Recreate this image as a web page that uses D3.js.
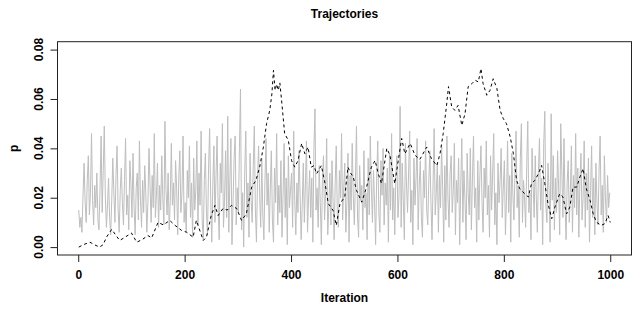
<!DOCTYPE html>
<html>
<head>
<meta charset="utf-8">
<script src="https://cdn.jsdelivr.net/npm/d3@7"></script>
<style>
  body { margin: 0; background: #fff; }
  text { font-family: "Liberation Sans", Arial, sans-serif; }
</style>
</head>
<body>
<svg id="chart" width="636" height="311"></svg>
<script>
// gray trace, sampled every 2 iterations from 1 to 999
const gray_values = [
  0.015, 0.008, 0.012, 0.006, 0.021, 0.034, 0.018, 0.010, 0.027, 0.037,
  0.013, 0.022, 0.046, 0.019, 0.009, 0.025, 0.016, 0.030, 0.011, 0.007,
  0.024, 0.045, 0.014, 0.031, 0.049, 0.020, 0.008, 0.017, 0.028, 0.012,
  0.005, 0.019, 0.036, 0.022, 0.010, 0.029, 0.041, 0.015, 0.006, 0.023,
  0.032, 0.018, 0.009, 0.027, 0.044, 0.013, 0.021, 0.007, 0.035, 0.026,
  0.012, 0.038, 0.016, 0.005, 0.024, 0.030, 0.011, 0.043, 0.019, 0.008,
  0.027, 0.014, 0.033, 0.022, 0.006, 0.018, 0.040, 0.025, 0.010, 0.029,
  0.016, 0.046, 0.012, 0.021, 0.034, 0.008, 0.025, 0.015, 0.037, 0.020,
  0.009, 0.051, 0.023, 0.013, 0.030, 0.007, 0.019, 0.042, 0.017, 0.026,
  0.011, 0.035, 0.024, 0.005, 0.028, 0.039, 0.014, 0.022, 0.045, 0.010,
  0.018, 0.006, 0.031, 0.020, 0.041, 0.012, 0.026, 0.004, 0.036, 0.015,
  0.023, 0.043, 0.009, 0.030, 0.017, 0.047, 0.011, 0.003, 0.027, 0.038,
  0.014, 0.005, 0.032, 0.048, 0.020, 0.002, 0.025, 0.041, 0.010, 0.029,
  0.045, 0.016, 0.003, 0.034, 0.022, 0.050, 0.008, 0.019, 0.039, 0.012,
  0.053, 0.006, 0.027, 0.044, 0.001, 0.018, 0.036, 0.045, 0.009, 0.024,
  0.014, 0.040, 0.064, 0.007, 0.022, 0.000, 0.031, 0.047, 0.012, 0.026,
  0.004, 0.038, 0.019, 0.010, 0.033, 0.049, 0.015, 0.002, 0.028, 0.041,
  0.021, 0.008, 0.036, 0.013, 0.003, 0.027, 0.044, 0.017, 0.030, 0.006,
  0.024, 0.039, 0.011, 0.002, 0.032, 0.018, 0.046, 0.009, 0.025, 0.014,
  0.035, 0.004, 0.021, 0.042, 0.012, 0.028, 0.001, 0.037, 0.016, 0.023,
  0.030, 0.008, 0.047, 0.019, 0.005, 0.026, 0.014, 0.039, 0.022, 0.003,
  0.017, 0.034, 0.010, 0.025, 0.043, 0.006, 0.020, 0.031, 0.012, 0.028,
  0.002, 0.040, 0.056, 0.015, 0.024, 0.008, 0.033, 0.018, 0.001, 0.027,
  0.037, 0.011, 0.022, 0.044, 0.005, 0.016, 0.030, 0.009, 0.035, 0.019,
  0.003, 0.026, 0.041, 0.013, 0.008, 0.031, 0.020, 0.046, 0.011, 0.024,
  0.034, 0.006, 0.018, 0.038, 0.002, 0.029, 0.015, 0.042, 0.021, 0.009,
  0.027, 0.049, 0.012, 0.004, 0.033, 0.019, 0.025, 0.007, 0.039, 0.016,
  0.022, 0.003, 0.036, 0.013, 0.045, 0.024, 0.010, 0.031, 0.018, 0.001,
  0.028, 0.043, 0.014, 0.006, 0.035, 0.021, 0.040, 0.009, 0.026, 0.017,
  0.032, 0.002, 0.038, 0.015, 0.046, 0.011, 0.024, 0.005, 0.029, 0.037,
  0.012, 0.021, 0.057, 0.008, 0.034, 0.019, 0.003, 0.042, 0.026, 0.014,
  0.030, 0.047, 0.010, 0.023, 0.001, 0.036, 0.017, 0.028, 0.044, 0.007,
  0.025, 0.035, 0.012, 0.004, 0.031, 0.020, 0.043, 0.015, 0.009, 0.027,
  0.039, 0.018, 0.003, 0.026, 0.048, 0.013, 0.022, 0.034, 0.006, 0.029,
  0.016, 0.041, 0.024, 0.002, 0.033, 0.011, 0.045, 0.020, 0.008, 0.030,
  0.037, 0.014, 0.023, 0.042, 0.005, 0.027, 0.018, 0.036, 0.001, 0.025,
  0.044, 0.010, 0.031, 0.019, 0.003, 0.038, 0.022, 0.013, 0.040, 0.007,
  0.028, 0.045, 0.016, 0.024, 0.002, 0.035, 0.011, 0.029, 0.041, 0.018,
  0.006, 0.032, 0.020, 0.043, 0.013, 0.025, 0.004, 0.037, 0.015, 0.030,
  0.046, 0.009, 0.022, 0.001, 0.034, 0.018, 0.027, 0.040, 0.012, 0.024,
  0.035, 0.005, 0.019, 0.043, 0.014, 0.029, 0.002, 0.038, 0.021, 0.011,
  0.031, 0.047, 0.016, 0.025, 0.004, 0.036, 0.050, 0.010, 0.027, 0.019,
  0.008, 0.033, 0.051, 0.014, 0.022, 0.003, 0.040, 0.026, 0.012, 0.037,
  0.020, 0.006, 0.031, 0.044, 0.015, 0.028, 0.001, 0.042, 0.055, 0.017,
  0.010, 0.034, 0.023, 0.002, 0.054, 0.019, 0.037, 0.007, 0.028, 0.014,
  0.039, 0.024, 0.005, 0.050, 0.031, 0.012, 0.044, 0.018, 0.003, 0.026,
  0.035, 0.010, 0.022, 0.041, 0.006, 0.029, 0.016, 0.046, 0.013, 0.032,
  0.004, 0.027, 0.038, 0.011, 0.020, 0.043, 0.008, 0.030, 0.015, 0.036,
  0.002, 0.023, 0.041, 0.012, 0.028, 0.005, 0.034, 0.018, 0.009, 0.031,
  0.045, 0.013, 0.025, 0.006, 0.037, 0.020, 0.010, 0.029, 0.016, 0.022
];
const gray_step = 2;

// dashed trace: [iteration, p]
const dashed_points = [
  [1, 0.000], [10, 0.001], [22, 0.002], [30, 0.001], [40, 0.000], [47, 0.001],
  [53, 0.004], [63, 0.0072], [70, 0.005], [78, 0.0027], [88, 0.004], [100, 0.0057],
  [110, 0.002], [120, 0.003], [131, 0.0047], [138, 0.0037], [150, 0.010], [160, 0.009],
  [172, 0.0108], [182, 0.0088], [194, 0.0068], [204, 0.006], [216, 0.004], [222, 0.0108],
  [235, 0.0027], [241, 0.004], [250, 0.0128], [257, 0.0169], [263, 0.0128], [272, 0.0156],
  [280, 0.015], [288, 0.0169], [298, 0.0156], [307, 0.0108], [316, 0.0135], [326, 0.0243],
  [334, 0.027], [341, 0.0324], [348, 0.0405], [354, 0.050], [360, 0.0554], [364, 0.062],
  [367, 0.0716], [370, 0.0635], [373, 0.066], [376, 0.0635], [379, 0.0665], [382, 0.060],
  [388, 0.046], [395, 0.0432], [401, 0.035], [407, 0.0324], [413, 0.035], [420, 0.042],
  [426, 0.0378], [432, 0.0405], [438, 0.0324], [443, 0.033], [448, 0.0297], [457, 0.033],
  [464, 0.0257], [470, 0.0176], [479, 0.0149], [485, 0.0088], [492, 0.0176], [501, 0.0203],
  [507, 0.0324], [512, 0.030], [517, 0.0284], [523, 0.023], [533, 0.0182], [542, 0.0243],
  [551, 0.0324], [558, 0.0351], [564, 0.0297], [570, 0.0257], [580, 0.040], [586, 0.0372],
  [595, 0.0257], [602, 0.0358], [608, 0.044], [614, 0.0378], [624, 0.042], [633, 0.0372],
  [642, 0.0355], [655, 0.0405], [664, 0.0358], [674, 0.033], [680, 0.0378], [686, 0.046],
  [692, 0.0568], [696, 0.065], [702, 0.0568], [708, 0.0554], [714, 0.0574], [721, 0.0493],
  [727, 0.054], [733, 0.065], [740, 0.0662], [746, 0.0676], [752, 0.0669], [757, 0.0723],
  [761, 0.0662], [768, 0.0615], [774, 0.0635], [780, 0.0682], [787, 0.0642], [793, 0.0554],
  [799, 0.052], [805, 0.050], [812, 0.0446], [818, 0.0378], [824, 0.027], [830, 0.0236],
  [836, 0.0223], [846, 0.0203], [852, 0.0257], [858, 0.027], [865, 0.0297], [871, 0.0331],
  [877, 0.0257], [883, 0.0176], [890, 0.0115], [896, 0.0162], [905, 0.0216], [911, 0.0203],
  [918, 0.0135], [924, 0.0162], [930, 0.0243], [937, 0.0243], [943, 0.0284], [949, 0.0318],
  [955, 0.0237], [962, 0.019], [968, 0.0135], [974, 0.0101], [983, 0.0088], [990, 0.0095],
  [996, 0.0128], [1000, 0.010]
];

const x_ticks = [0, 200, 400, 600, 800, 1000];
const y_ticks = [0.00, 0.02, 0.04, 0.06, 0.08];

const box = {left: 57.5, right: 631.5, top: 41.7, bottom: 255};

const svg = d3.select("#chart");

const x = d3.scaleLinear().domain([-38.96, 1039.96]).range([box.left, box.right]);
const y = d3.scaleLinear().domain([-0.0032, 0.0832]).range([box.bottom, box.top]);

const line = d3.line()
               .x(d => x(d[0]))
               .y(d => y(d[1]));

const gray_data = gray_values.map((v, i) => [1 + i * gray_step, v]);

svg.append("path")
   .datum(gray_data)
   .attr("d", line)
   .attr("fill", "none")
   .attr("stroke", "#bebebe")
   .attr("stroke-width", 1);

svg.append("path")
   .datum(dashed_points)
   .attr("d", line)
   .attr("fill", "none")
   .attr("stroke", "#000")
   .attr("stroke-width", 1)
   .attr("stroke-dasharray", "3,3");

// box
svg.append("rect")
   .attr("x", box.left)
   .attr("y", box.top)
   .attr("width", box.right - box.left)
   .attr("height", box.bottom - box.top)
   .attr("fill", "none")
   .attr("stroke", "#222")
   .attr("stroke-width", 1);

// x axis
const x_axis = svg.append("g")
                  .attr("transform", "translate(0," + box.bottom + ")")
                  .call(d3.axisBottom(x).tickValues(x_ticks).tickSize(7).tickPadding(8).tickFormat(d3.format("d")));
x_axis.select(".domain").remove();
x_axis.selectAll("line").attr("stroke", "#222");
x_axis.selectAll("text")
      .attr("fill", "#000")
      .style("font-size", "12px")
      .style("font-weight", "bold");

// y axis
const y_axis = svg.append("g")
                  .attr("transform", "translate(" + box.left + ",0)")
                  .call(d3.axisLeft(y).tickValues(y_ticks).tickSize(7).tickFormat(""));
y_axis.select(".domain").remove();
y_axis.selectAll("line").attr("stroke", "#222");

svg.selectAll(".ylab")
   .data(y_ticks)
   .enter()
   .append("text")
   .attr("class", "ylab")
   .attr("transform", d => "translate(43," + y(d) + ") rotate(-90)")
   .attr("text-anchor", "middle")
   .style("font-size", "12px")
   .style("font-weight", "bold")
   .text(d => d3.format(".2f")(d));

// titles
svg.append("text")
   .attr("x", (box.left + box.right) / 2)
   .attr("y", 18)
   .attr("text-anchor", "middle")
   .style("font-size", "12px")
   .style("font-weight", "bold")
   .text("Trajectories");

svg.append("text")
   .attr("x", (box.left + box.right) / 2)
   .attr("y", 302)
   .attr("text-anchor", "middle")
   .style("font-size", "12px")
   .style("font-weight", "bold")
   .text("Iteration");

svg.append("text")
   .attr("transform", "translate(18," + ((box.top + box.bottom) / 2) + ") rotate(-90)")
   .attr("text-anchor", "middle")
   .style("font-size", "12px")
   .style("font-weight", "bold")
   .text("p");
</script>
</body>
</html>
